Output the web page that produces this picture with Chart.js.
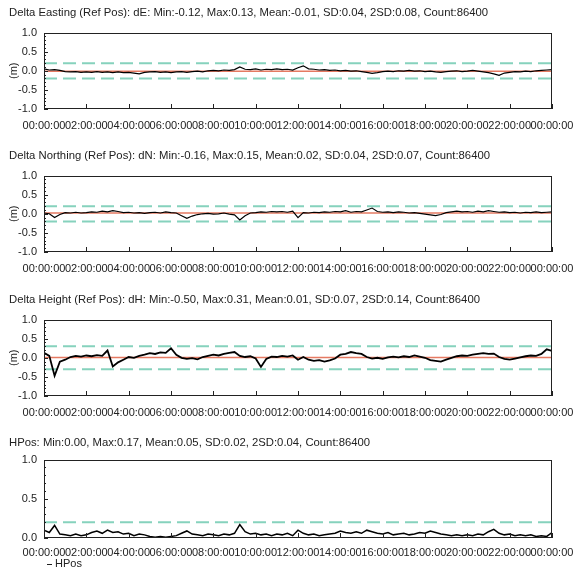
<!DOCTYPE html>
<html>
<head>
<meta charset="utf-8">
<script src="https://cdn.jsdelivr.net/npm/chart.js@4.4.1/dist/chart.umd.min.js"></script>
<style>
  html, body { margin: 0; padding: 0; background: #fff; overflow: hidden; }
  body { width: 573px; height: 568px; position: relative; font-family: "Liberation Sans", Arial, sans-serif; }
  .panel { position: absolute; left: 0; width: 573px; }
  #legend { position: absolute; left: 47px; top: 557px; font-size: 11px; line-height: 13px; color: #222; }
  #legend span { display: inline-block; width: 5px; height: 1px; background: #222; vertical-align: middle; margin-right: 3px; }
</style>
</head>
<body>
<div class="panel" style="top:0"><canvas id="chart-0" width="573" height="143"></canvas></div>
<div class="panel" style="top:143px"><canvas id="chart-1" width="573" height="143"></canvas></div>
<div class="panel" style="top:287px"><canvas id="chart-2" width="573" height="143"></canvas></div>
<div class="panel" style="top:430px"><canvas id="chart-3" width="573" height="138"></canvas></div>
<div id="legend"><span></span>HPos</div>
<script>
// one sample every 15 minutes, 00:00 -> 24:00
const sampleMinutes = 15

const titles = [
  'Delta Easting (Ref Pos): dE: Min:-0.12, Max:0.13, Mean:-0.01, SD:0.04, 2SD:0.08, Count:86400',
  'Delta Northing (Ref Pos): dN: Min:-0.16, Max:0.15, Mean:0.02, SD:0.04, 2SD:0.07, Count:86400',
  'Delta Height (Ref Pos): dH: Min:-0.50, Max:0.31, Mean:0.01, SD:0.07, 2SD:0.14, Count:86400',
  'HPos: Min:0.00, Max:0.17, Mean:0.05, SD:0.02, 2SD:0.04, Count:86400'
]
const seriesNames = ['dE', 'dN', 'dH', 'HPos']

const dE = [
  0.05, 0.02, 0.03, 0.01, -0.02, -0.03, -0.02, -0.04, -0.03, -0.04, -0.02, -0.04,
  -0.03, -0.05, -0.03, -0.05, -0.04, -0.06, -0.08, -0.04, -0.03, -0.02, -0.04, -0.03,
  -0.05, -0.03, -0.02, -0.04, -0.02, -0.01, -0.03, 0.00, 0.01, 0.00, 0.02, 0.01,
  0.03, 0.10, 0.04, 0.03, 0.05, 0.02, 0.04, 0.03, 0.05, 0.03, 0.04, 0.02,
  0.08, 0.13, 0.05, 0.04, 0.02, 0.03, 0.01, 0.02, 0.00, 0.01, -0.01, 0.00,
  -0.02, -0.04, -0.07, -0.05, -0.02, -0.01, -0.02, 0.00, -0.01, 0.01, -0.01, 0.00,
  -0.02, -0.01, -0.03, -0.04, -0.02, -0.01, 0.00, -0.02, -0.01, 0.01, -0.01, -0.03,
  -0.05, -0.08, -0.12, -0.06, -0.04, -0.02, -0.03, -0.01, -0.02, 0.00, 0.01, 0.02, 0.03
]
const dN = [
  0.02, 0.00, -0.10, -0.02, 0.03, 0.02, 0.04, 0.02, 0.03, 0.05, 0.04, 0.07,
  0.05, 0.08, 0.06, 0.03, 0.04, 0.02, 0.03, 0.01, 0.03, 0.04, 0.02, 0.05,
  0.03, 0.02, -0.05, -0.12, -0.06, -0.02, 0.00, 0.01, -0.01, 0.00, 0.02, -0.01,
  -0.03, -0.16, -0.05, 0.02, 0.03, 0.05, 0.04, 0.06, 0.05, 0.06, 0.04, 0.07,
  -0.10, 0.03, 0.02, 0.04, 0.03, 0.05, 0.04, 0.06, 0.05, 0.08, 0.04, 0.06,
  0.05, 0.10, 0.15, 0.06, 0.04, 0.05, 0.03, 0.05, 0.04, 0.02, 0.03, 0.01,
  -0.01, -0.03, -0.05, -0.02, 0.03, 0.05, 0.07, 0.05, 0.06, 0.04, 0.07, 0.05,
  0.08, 0.06, 0.04, 0.05, 0.03, 0.04, 0.02, 0.04, 0.03, 0.05, 0.03, 0.04, 0.05
]
const dH = [
  0.13, 0.05, -0.47, -0.10, -0.05, 0.02, 0.05, 0.03, 0.06, 0.04, 0.07, 0.05,
  0.19, -0.23, -0.12, -0.05, 0.02, 0.00, 0.05, 0.08, 0.12, 0.10, 0.14, 0.13,
  0.25, 0.08, 0.00, -0.03, -0.01, -0.04, 0.02, 0.05, 0.08, 0.06, 0.10, 0.13,
  0.15, 0.05, 0.02, 0.04, -0.02, -0.24, -0.03, 0.03, 0.02, 0.05, 0.03, 0.06,
  -0.05, 0.02, -0.05, -0.08, -0.06, -0.10, -0.07, -0.02, 0.08, 0.10, 0.15, 0.12,
  0.10, 0.02, -0.02, 0.00, -0.03, 0.01, 0.03, 0.01, 0.04, 0.02, 0.06, 0.03,
  0.00, -0.06, -0.08, -0.10, -0.05, 0.00, 0.04, 0.06, 0.05, 0.08, 0.10, 0.12,
  0.10, 0.11, 0.02, -0.03, -0.05, -0.02, 0.01, 0.04, 0.06, 0.05, 0.10, 0.22, 0.18
]
const hPos = [
  0.10, 0.07, 0.16, 0.05, 0.04, 0.03, 0.05, 0.03, 0.04, 0.07, 0.09, 0.06,
  0.10, 0.07, 0.08, 0.05, 0.06, 0.03, 0.05, 0.04, 0.02, 0.01, 0.02, 0.01,
  0.02, 0.03, 0.06, 0.09, 0.05, 0.04, 0.03, 0.05, 0.04, 0.03, 0.05, 0.04,
  0.06, 0.17, 0.08, 0.05, 0.06, 0.04, 0.05, 0.03, 0.05, 0.04, 0.06, 0.03,
  0.10, 0.06, 0.04, 0.05, 0.03, 0.04, 0.05, 0.06, 0.09, 0.07, 0.06, 0.08,
  0.06, 0.10, 0.08, 0.06, 0.05, 0.07, 0.04, 0.05, 0.06, 0.04, 0.05, 0.07,
  0.06, 0.09, 0.07, 0.05, 0.04, 0.03, 0.04, 0.03, 0.04, 0.03, 0.05, 0.04,
  0.08, 0.11, 0.06, 0.04, 0.05, 0.03, 0.04, 0.03, 0.04, 0.02, 0.03, 0.02, 0.07
]
const series = [dE, dN, dH, hPos]

// mean line (red) and limit lines (dashed green)
const means = [-0.01, 0.02, 0.01, null]
const limits = [0.2, 0.2, 0.3, 0.2]
const yRanges = [[-1, 1], [-1, 1], [-1, 1], [0, 1]]
const yTitles = ['(m)', '(m)', '(m)', '']
const traceWidths = [1.2, 1.2, 1.8, 1.5]

const textColor = '#222'
const baseFont = { family: '"Liberation Sans", Arial, sans-serif', size: 11, weight: 'normal' }

const hms = (sec) => {
  const h = Math.floor(sec / 3600) % 24
  return String(h).padStart(2, '0') + ':00:00'
}

// frame round the plot, ticks pointing inward
const frameTicks = {
  id: 'frameTicks',
  afterDatasetsDraw(chart) {
    const { ctx, chartArea: a, scales } = chart
    const x = scales.x, y = scales.y
    ctx.save()
    ctx.strokeStyle = '#222'
    ctx.lineWidth = 1
    ctx.strokeRect(Math.round(a.left) + 0.5, Math.round(a.top) + 0.5,
      Math.round(a.width) - 1, Math.round(a.height) - 1)
    ctx.beginPath()
    x.ticks.forEach((t) => {
      const px = Math.round(x.getPixelForValue(t.value)) + 0.5
      ctx.moveTo(px, a.bottom)
      ctx.lineTo(px, a.bottom - 5)
    })
    for (let k = 0; k <= Math.round((y.max - y.min) * 10); k++) {
      const v = y.min + k / 10
      const py = Math.round(y.getPixelForValue(v)) + 0.5
      const len = (k % 5 === 0) ? 4 : 2
      ctx.moveTo(a.left, py)
      ctx.lineTo(a.left + len, py)
    }
    ctx.stroke()
    ctx.restore()
  }
}

const buildChart = (i) => {
  const ctx = document.getElementById(`chart-${i}`).getContext('2d')
  const end = (series[i].length - 1) * sampleMinutes * 60
  const datasets = [{
    label: seriesNames[i],
    data: series[i].map((v, k) => ({ x: k * sampleMinutes * 60, y: v })),
    borderColor: '#000',
    borderWidth: traceWidths[i],
    pointRadius: 0,
    tension: 0
  }]
  if (means[i] !== null) {
    datasets.push({
      label: 'mean',
      data: [{ x: 0, y: means[i] }, { x: end, y: means[i] }],
      borderColor: '#e57a62',
      borderWidth: 1.5,
      pointRadius: 0
    })
  }
  const lims = i === 3 ? [limits[i]] : [limits[i], -limits[i]]
  lims.forEach((l) => {
    datasets.push({
      label: 'limit',
      data: [{ x: 0, y: l }, { x: end, y: l }],
      borderColor: '#86d2bd',
      borderWidth: 2,
      borderDash: [13, 6],
      pointRadius: 0
    })
  })

  const last = i === 3
  new Chart(ctx, {
    type: 'line',
    data: { datasets: datasets },
    options: {
      responsive: false,
      animation: false,
      events: [],
      layout: { padding: { left: 9, right: 0, top: 0, bottom: last ? 8 : 10 } },
      plugins: {
        legend: { display: false },
        tooltip: { enabled: false },
        title: {
          display: true,
          text: titles[i],
          align: 'start',
          color: textColor,
          font: Object.assign({}, baseFont, { size: 11.3 }),
          padding: { top: 6, bottom: last ? 10 : 13 }
        }
      },
      scales: {
        x: {
          type: 'linear',
          min: 0,
          max: end,
          afterFit: (scale) => {
            scale.height = last ? 22 : 24
            scale.paddingRight = 21
          },
          grid: { display: false, drawTicks: false },
          border: { display: false },
          ticks: {
            stepSize: 7200,
            autoSkip: false,
            maxRotation: 0,
            padding: last ? 8 : 10,
            color: textColor,
            font: baseFont,
            callback: (v) => hms(v)
          }
        },
        y: {
          min: yRanges[i][0],
          max: yRanges[i][1],
          afterFit: (scale) => { scale.width = 35 },
          grid: { display: false, drawTicks: false },
          border: { display: false },
          title: {
            display: yTitles[i] !== '',
            text: yTitles[i],
            color: textColor,
            font: Object.assign({}, baseFont, { lineHeight: 0.9 }),
            padding: 0
          },
          ticks: {
            stepSize: 0.5,
            padding: 7,
            color: textColor,
            font: baseFont,
            callback: (v) => v.toFixed(1)
          }
        }
      }
    },
    plugins: [frameTicks]
  })
}

series.forEach((s, i) => buildChart(i))
</script>
</body>
</html>
